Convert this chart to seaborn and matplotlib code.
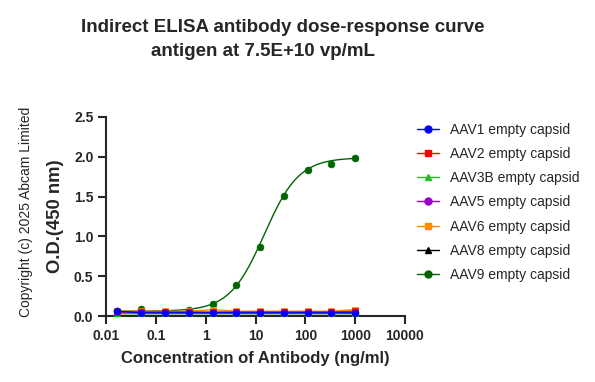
import numpy as np
import pandas as pd
import matplotlib
matplotlib.use("Agg")
import matplotlib.pyplot as plt
import seaborn as sns
from matplotlib.lines import Line2D

sns.set_style("ticks")
plt.rcParams['font.family'] = ['Liberation Sans', 'DejaVu Sans']

conc = [1000, 333.3, 111.1, 37.04, 12.35, 4.115, 1.372, 0.4572, 0.1524, 0.0508, 0.0169]
series_names = ["AAV1 empty capsid", "AAV2 empty capsid", "AAV3B empty capsid",
                "AAV5 empty capsid", "AAV6 empty capsid", "AAV8 empty capsid",
                "AAV9 empty capsid"]
aav1 = [0.04, 0.04, 0.04, 0.04, 0.04, 0.04, 0.04, 0.04, 0.04, 0.04, 0.06]
aav2 = [0.06, 0.05, 0.05, 0.05, 0.05, 0.05, 0.05, 0.05, 0.05, 0.05, 0.05]
aav3b = [0.04, 0.04, 0.04, 0.04, 0.04, 0.04, 0.04, 0.04, 0.04, 0.04, 0.04]
aav5 = [0.05, 0.05, 0.05, 0.05, 0.05, 0.05, 0.05, 0.05, 0.05, 0.05, 0.05]
aav6 = [0.08, 0.06, 0.06, 0.06, 0.06, 0.06, 0.08, 0.06, 0.06, 0.06, 0.06]
aav8 = [0.04, 0.04, 0.04, 0.04, 0.04, 0.04, 0.04, 0.04, 0.04, 0.04, 0.04]
aav9 = [1.98, 1.91, 1.83, 1.51, 0.87, 0.39, 0.15, 0.08, 0.05, 0.09, 0.06]
values = [aav1, aav2, aav3b, aav5, aav6, aav8, aav9]

colors = ["#0000ff", "#ff0000", "#22bb22", "#9900cc", "#ff8c00", "#000000", "#006400"]
markers = ["o", "s", "^", "o", "s", "^", "o"]

# 4PL fit parameters for AAV9 curve
fit_bottom, fit_top, fit_ec50, fit_hill = 0.06, 1.99, 15.0, 1.25

fig = plt.figure(figsize=(5.95, 3.82), dpi=100)
ax = fig.add_axes([106/595, 1-316/382, (405-106)/595, (316-117)/382])

for i in reversed(range(len(series_names))):
    df = pd.DataFrame({"x": conc, "y": values[i]})
    if i == 6:
        xx = np.logspace(np.log10(min(conc)), np.log10(max(conc)), 300)
        yy = fit_bottom + (fit_top - fit_bottom) / (1 + (fit_ec50 / xx) ** fit_hill)
        sns.lineplot(x=xx, y=yy, ax=ax, color=colors[i], lw=1.0, legend=False)
    else:
        sns.lineplot(data=df, x="x", y="y", ax=ax, color=colors[i], lw=1.0, legend=False)
    sns.scatterplot(data=df, x="x", y="y", ax=ax, color=colors[i], marker=markers[i],
                    s=24, edgecolor=colors[i], linewidth=0.5, legend=False, zorder=3)

ax.set_xscale("log")
ax.set_xlim(0.01, 10000)
ax.set_ylim(0, 2.5)
ax.set_xticks([0.01, 0.1, 1, 10, 100, 1000, 10000])
ax.set_xticklabels(["0.01", "0.1", "1", "10", "100", "1000", "10000"])
ax.xaxis.set_minor_locator(matplotlib.ticker.NullLocator())
ax.set_yticks([0, 0.5, 1.0, 1.5, 2.0, 2.5])
ax.set_yticklabels(["0.0", "0.5", "1.0", "1.5", "2.0", "2.5"])
for lab in ax.get_xticklabels() + ax.get_yticklabels():
    lab.set_fontweight("bold")
    lab.set_fontsize(10)
ax.tick_params(width=1.5, length=6, direction="out", pad=3)
for s in ["left", "bottom"]:
    ax.spines[s].set_linewidth(1.5)
sns.despine(ax=ax)
ax.set_xlabel("Concentration of Antibody (ng/ml)", fontsize=12, fontweight="bold", labelpad=6)
ax.set_ylabel("O.D.(450 nm)", fontsize=13.3, fontweight="bold", labelpad=7)

fig.text(283/595, 1-28/382, "Indirect ELISA antibody dose-response curve",
         ha="center", va="center", fontsize=13.5, fontweight="bold")
fig.text(263/595, 1-52/382, "antigen at 7.5E+10 vp/mL",
         ha="center", va="center", fontsize=13.5, fontweight="bold")
fig.text(26/595, 1-212/382, "Copyright (c) 2025 Abcam Limited", rotation=90,
         ha="center", va="center", fontsize=10)

handles = [Line2D([0], [0], color=colors[i], marker=markers[i], markersize=5, lw=1.0)
           for i in range(len(series_names))]
fig.legend(handles, series_names, loc="upper left", bbox_to_anchor=(404/595, 1-110/382),
           frameon=False, fontsize=10, handlelength=1.6, labelspacing=0.74, handletextpad=0.8)

fig.savefig("out.png", dpi=100)
